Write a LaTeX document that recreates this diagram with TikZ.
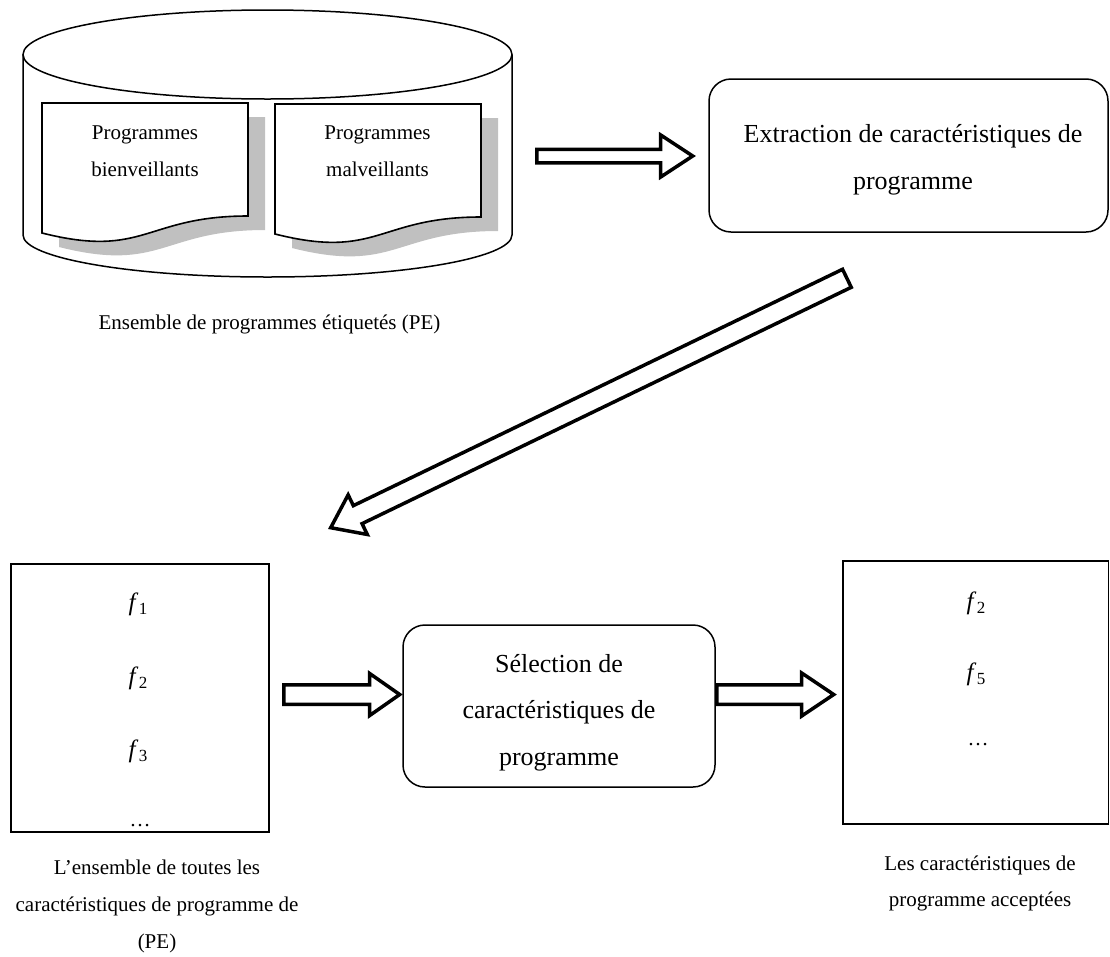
\documentclass[tikz,border=0pt]{standalone}
\usepackage{fontspec}
\setmainfont{Liberation Serif}
\usetikzlibrary{calc}

\definecolor{shadowgray}{HTML}{C0C0C0}

\tikzset{
  thinline/.style={draw=black, line width=1.5pt},
  procbox/.style={thinline, rounded corners=22pt, fill=white, inner sep=0pt},
  listbox/.style={thinline, fill=white, inner sep=0pt},
  blockoutline/.style={draw=black, line width=3.5pt, fill=white, line join=miter, miter limit=10},
  bigtext/.style={font=\fontsize{26}{46.5}\selectfont, align=center, inner sep=0pt},
  captext/.style={font=\fontsize{21}{36.8}\selectfont, align=center, inner sep=0pt},
  feat/.style={font=\fontsize{25}{28}\selectfont, inner sep=0pt},
  dotstext/.style={font=\fontsize{21}{26}\selectfont, inner sep=0pt},
  docshadow/.style={fill=shadowgray, draw=none},
  docpage/.style={draw=black, line width=1.6pt, fill=white},
  docsheet/.pic={
    \path[pic actions] (0,0) -- (206,0) -- (206,113)
      .. controls (103,113) and (103,156) .. (0,130) -- cycle;
  },
}

% feature name: italic f with a lowered index
\newcommand{\feature}[1]{\textit{f}\kern0.5pt\raisebox{-4pt}{\fontsize{17}{17}\selectfont #1}}

% hollow block arrow: tail, tip, shaft half-width, head half-width, head length
\newcommand{\blockarrow}[5]{%
  \coordinate (#1-#2-base) at ($(#2)!#5!(#1)$);
  \draw[blockoutline]
    ($(#1)!#3!90:(#2)$) -- ($(#1-#2-base)!#3!90:(#2)$)
    -- ($(#1-#2-base)!#4!90:(#2)$) -- (#2)
    -- ($(#1-#2-base)!#4!-90:(#2)$) -- ($(#1-#2-base)!#3!-90:(#2)$)
    -- ($(#1)!#3!-90:(#2)$) -- cycle;
}

\begin{document}
\begin{tikzpicture}[x=1pt, y=-1pt]
\useasboundingbox (0,0) rectangle (1110,956);

% database cylinder
\draw[thinline, fill=white] (23,54.5) -- (23,235)
  arc[start angle=180, end angle=0, x radius=244.5, y radius=42] -- (512,54.5);
\draw[thinline, fill=white] (267.5,54.5) ellipse [x radius=244.5, y radius=44.5];

% document sheets with their shadows
\pic[docshadow] at (59,117) {docsheet};
\pic[docshadow] at (292,118) {docsheet};
\pic[docpage] at (42,103) {docsheet};
\pic[docpage] at (275,104) {docsheet};

\node[captext] (benign) at (145,151.5) {Programmes\\bienveillants};
\node[captext] (malign) at (377.5,151.5) {Programmes\\malveillants};
\node[captext] (pecap) at (269.5,324) {Ensemble de programmes étiquetés (PE)};

% feature extraction
\node[procbox, minimum width=399pt, minimum height=153pt] (extract) at (908.5,155.5) {};
\node[bigtext] (extracttext) at (913,160) {Extraction de caractéristiques de\\programme};

% all features
\node[listbox, minimum width=258pt, minimum height=268pt] (allfeat) at (140,698) {};
\node[feat] (fa1) at (138,604) {\feature{1}};
\node[feat] (fa2) at (138,678) {\feature{2}};
\node[feat] (fa3) at (138,751) {\feature{3}};
\node[dotstext] (fadots) at (140,826) {…};
\node[captext] (allcap) at (157,906.5)
  {L’ensemble de toutes les\\caractéristiques de programme de\\(PE)};

% feature selection
\node[procbox, minimum width=312pt, minimum height=162pt] (select) at (559,706) {};
\node[bigtext] (selecttext) at (559,712.5) {Sélection de\\caractéristiques de\\programme};

% accepted features
\node[listbox, minimum width=265.5pt, minimum height=263pt] (accepted) at (975.75,692.5) {};
\node[feat] (fb2) at (976,603) {\feature{2}};
\node[feat] (fb5) at (976,674) {\feature{5}};
\node[dotstext] (fbdots) at (978,745) {…};
\node[captext] (acccap) at (980,883.5) {Les caractéristiques de\\programme acceptées};

% block arrows
\coordinate (a1tail) at (536.75,156);
\coordinate (a1tip) at (692.7,156);
\blockarrow{a1tail}{a1tip}{6.75pt}{21pt}{32pt}

\coordinate (a2tail) at (846.9,278.3);
\coordinate (a2tip) at (330.7,527.7);
\blockarrow{a2tail}{a2tip}{10pt}{22pt}{30pt}

\coordinate (a3tail) at (283.75,694.5);
\coordinate (a3tip) at (399.7,694.5);
\blockarrow{a3tail}{a3tip}{9.75pt}{21pt}{30pt}

\coordinate (a4tail) at (716.75,694.5);
\coordinate (a4tip) at (833.7,694.5);
\blockarrow{a4tail}{a4tip}{9.75pt}{21.5pt}{32pt}

\end{tikzpicture}
\end{document}
